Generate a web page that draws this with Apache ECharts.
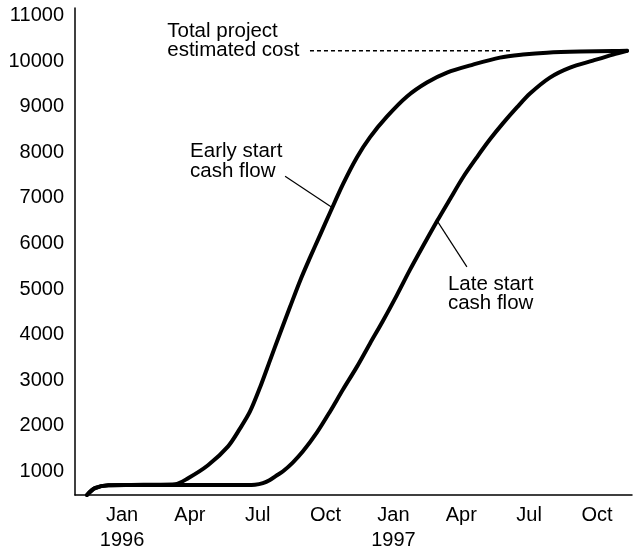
<!DOCTYPE html>
<html>
<head>
<meta charset="utf-8">
<script src="https://cdn.jsdelivr.net/npm/echarts@6/dist/echarts.min.js"></script>
<style>
  html, body { margin: 0; padding: 0; background: #fff; }
  #chart { width: 633px; height: 553px; }
</style>
</head>
<body>
<div id="chart"></div>
<script>
// Months are counted from January 1996 (0 = Jan 1996, 12 = Jan 1997).
const monthTicks = [0, 3, 6, 9, 12, 15, 18, 21];
const monthLabels = ['Jan\n1996', 'Apr', 'Jul', 'Oct', 'Jan\n1997', 'Apr', 'Jul', 'Oct'];
const costTicks = [1000, 2000, 3000, 4000, 5000, 6000, 7000, 8000, 9000, 10000, 11000];

// Cumulative cost, early start schedule
const earlyMonths = [-1.55, -1.2, -0.6, 0.4, 1.5, 2.34, 2.92, 3.8, 4.69, 5.22, 5.66, 6.1, 6.54, 6.98, 7.43, 7.87, 8.31, 8.75, 9.2, 9.77, 10.39, 10.96, 11.72, 12.6, 13.48, 14.37, 15.52, 16.71, 17.73, 18.79, 20.25, 21.71, 22.33];
const earlyCost   = [480, 630, 694, 700, 706, 716, 848, 1132, 1548, 1942, 2314, 2839, 3430, 4020, 4611, 5180, 5690, 6180, 6680, 7302, 7893, 8331, 8790, 9228, 9534, 9753, 9928, 10081, 10147, 10190, 10215, 10225, 10230];

// Cumulative cost, late start schedule
const lateMonths = [-1.55, -1.2, -0.6, 0.4, 2.5, 4.5, 5.5, 5.88, 6.23, 6.54, 6.85, 7.12, 7.56, 8.0, 8.62, 9.2, 9.77, 10.39, 10.96, 11.54, 12.16, 12.73, 13.31, 13.93, 14.5, 15.08, 15.69, 16.27, 16.84, 17.46, 18.04, 18.92, 19.81, 20.82, 21.71, 22.33];
const lateCost   = [480, 630, 694, 698, 700, 700, 700, 705, 740, 810, 913, 1001, 1198, 1438, 1854, 2314, 2795, 3298, 3802, 4305, 4874, 5421, 5946, 6493, 6974, 7455, 7893, 8287, 8637, 8987, 9293, 9643, 9862, 10015, 10147, 10230];

// Total project estimated cost reference
const totalCost = 10230;
const totalLineMonths = [8.31, 17.24];

// Leader lines from the notes to the curves: [month, cost] pairs
const earlyLeader = [[7.21, 7477], [9.29, 6790]];
const lateLeader = [[13.97, 6471], [15.25, 5486]];

// Notes, anchored at their top-left corner in [month, cost]
const notes = [
  { text: 'Total project\nestimated cost', at: [2.0, 10880] },
  { text: 'Early start\ncash flow', at: [3.01, 8230] },
  { text: 'Late start\ncash flow', at: [14.41, 5320] }
];

const FONT = '"Liberation Sans", Arial, Helvetica, sans-serif';
const INK = '#000';

const pairs = (xs, ys) => xs.map((x, i) => [x, ys[i]]);

const chart = echarts.init(document.getElementById('chart'), null, { renderer: 'canvas' });

chart.setOption({
  animation: false,
  backgroundColor: '#fff',
  grid: { left: 75, right: 1, top: 8, bottom: 56 },
  xAxis: {
    type: 'value',
    min: -2.08,
    max: 22.55,
    axisLine: { show: true, onZero: false, lineStyle: { color: INK, width: 1.5 } },
    axisTick: { show: false },
    splitLine: { show: false },
    axisLabel: {
      customValues: monthTicks,
      formatter: v => monthLabels[monthTicks.indexOf(v)] ?? '',
      color: INK,
      fontFamily: FONT,
      fontSize: 20,
      lineHeight: 25,
      margin: 8
    }
  },
  yAxis: {
    type: 'value',
    min: 480,
    max: 11170,
    axisLine: { show: true, onZero: false, lineStyle: { color: INK, width: 1.5 } },
    axisTick: { show: false },
    splitLine: { show: false },
    axisLabel: {
      customValues: costTicks,
      formatter: v => String(v),
      color: INK,
      fontFamily: FONT,
      fontSize: 20,
      margin: 11
    }
  },
  series: [
    {
      name: 'Early start cash flow',
      type: 'line',
      data: pairs(earlyMonths, earlyCost),
      showSymbol: false,
      smooth: 0.3,
      lineStyle: { color: INK, width: 4, cap: 'round', join: 'round' }
    },
    {
      name: 'Late start cash flow',
      type: 'line',
      data: pairs(lateMonths, lateCost),
      showSymbol: false,
      smooth: 0.3,
      lineStyle: { color: INK, width: 4, cap: 'round', join: 'round' }
    },
    {
      name: 'Total project estimated cost',
      type: 'line',
      data: totalLineMonths.map(m => [m, totalCost]),
      showSymbol: false,
      lineStyle: { color: INK, width: 1.5, type: [4, 3] }
    },
    {
      type: 'line',
      data: earlyLeader,
      showSymbol: false,
      lineStyle: { color: INK, width: 1.2 }
    },
    {
      type: 'line',
      data: lateLeader,
      showSymbol: false,
      lineStyle: { color: INK, width: 1.2 }
    }
  ]
});

// Place the notes once the axes have been laid out.
chart.setOption({
  graphic: notes.map(n => {
    const [px, py] = chart.convertToPixel({ gridIndex: 0 }, n.at);
    return {
      type: 'text',
      x: px,
      y: py,
      style: {
        text: n.text,
        fill: INK,
        fontFamily: FONT,
        fontSize: 20.5,
        lineHeight: 19.5,
        align: 'left',
        verticalAlign: 'top'
      }
    };
  })
});
</script>
</body>
</html>
